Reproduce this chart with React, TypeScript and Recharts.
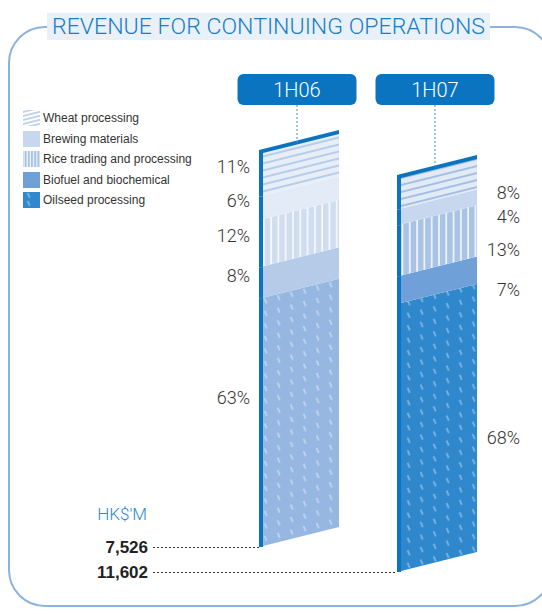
import { BarChart, Bar, XAxis, YAxis, Legend, LabelList } from 'recharts'

const PERIODS = ['1H06', '1H07']
const WHEAT = [11, 8]
const BREWING = [6, 4]
const RICE = [12, 13]
const BIOFUEL = [8, 7]
const OILSEED = [63, 68]
const TOTALS = [7526, 11602]

// bottom of the stack first
const SERIES = [
  { key: 'oilseed', name: 'Oilseed processing' },
  { key: 'biofuel', name: 'Biofuel and biochemical' },
  { key: 'rice', name: 'Rice trading and processing' },
  { key: 'brewing', name: 'Brewing materials' },
  { key: 'wheat', name: 'Wheat processing' },
]

const rows = PERIODS.map((period, i) => ({
  period,
  oilseed: OILSEED[i],
  biofuel: BIOFUEL[i],
  rice: RICE[i],
  brewing: BREWING[i],
  wheat: WHEAT[i],
}))

const EDGE = '#0a74c1'
const SKEW = 20 // left side of each block sits lower than the right
const SHIFT = [0, 25] // second block drops a bit
const PLOT_TOP = 133
const LIGHT = 'Roboto, "Liberation Sans", Arial, sans-serif'
const PLAIN = '"Liberation Sans", Arial, Helvetica, sans-serif'

// [1H06, 1H07, legend]
const BG: Record<string, string[]> = {
  wheat: ['#e7eef8', '#e2eaf6', '#ffffff'],
  brewing: ['#e3ebf6', '#c6d7ee', '#c6d7ee'],
  rice: ['#d0ddf0', '#a9c3e5', '#a9c3e5'],
  biofuel: ['#b5cbe8', '#6fa0d7', '#6fa0d7'],
  oilseed: ['#95b7e1', '#2f87cc', '#2f87cc'],
}
const WHEAT_INK = ['#8cb0df', '#6f9cd6', '#8cb0df']
const OIL_INK = ['#d6e3f4', '#a3cbec', '#a3cbec']

function Patterns() {
  return (
    <svg width={0} height={0} style={{ position: 'absolute' }}>
      <defs>
        {[0, 1, 2].map((v) => (
          <g key={v}>
            <pattern id={`wheat-${v}`} patternUnits="userSpaceOnUse" width={12} height={v === 2 ? 4 : 7} patternTransform="skewY(-14)">
              <rect width={12} height={7} fill={BG.wheat[v]} />
              <line x1={0} x2={12} y1={v === 2 ? 2 : 5} y2={v === 2 ? 2 : 5} stroke={WHEAT_INK[v]} strokeWidth={1.1} />
            </pattern>
            <pattern id={`brewing-${v}`} patternUnits="userSpaceOnUse" width={10} height={10}>
              <rect width={10} height={10} fill={BG.brewing[v]} />
            </pattern>
            <pattern id={`rice-${v}`} patternUnits="userSpaceOnUse" width={v === 2 ? 3.2 : 7.3} height={10}>
              <rect width={8} height={10} fill={BG.rice[v]} />
              <line x1={1} x2={1} y1={0} y2={10} stroke="#ffffff" strokeWidth={v === 2 ? 1 : 1.4} />
            </pattern>
            <pattern id={`biofuel-${v}`} patternUnits="userSpaceOnUse" width={10} height={10}>
              <rect width={10} height={10} fill={BG.biofuel[v]} />
            </pattern>
            <pattern id={`oilseed-${v}`} patternUnits="userSpaceOnUse" width={13} height={v === 2 ? 8 : 12.5} patternTransform="skewY(-14)">
              <rect width={13} height={13} fill={BG.oilseed[v]} />
              <line x1={4.5} y1={2} x2={6.8} y2={7.5} stroke={OIL_INK[v]} strokeWidth={1.1} />
            </pattern>
          </g>
        ))}
      </defs>
    </svg>
  )
}

// eslint-disable-next-line @typescript-eslint/no-explicit-any
const box = (p: any) => ({
  x: p.x ?? p.viewBox?.x,
  y: p.y ?? p.viewBox?.y,
  width: p.width ?? p.viewBox?.width,
  height: p.height ?? p.viewBox?.height,
  index: p.index ?? 0,
})

const makeShape = (key: string, isTop: boolean) =>
  // eslint-disable-next-line @typescript-eslint/no-explicit-any
  (p: any) => {
    const { x, y, width: w, height: h, index } = box(p)
    const y0 = y + SHIFT[index]
    const pts = `${x},${y0 + SKEW} ${x + w},${y0} ${x + w},${y0 + h} ${x},${y0 + h + SKEW}`
    return (
      <g>
        <polygon points={pts} fill={`url(#${key}-${index})`} />
        <rect x={x} y={y0 + SKEW} width={4} height={h} fill={EDGE} />
        {isTop && (
          <polygon
            points={`${x},${y0 + SKEW - 3} ${x + w},${y0 - 3} ${x + w},${y0 + 1} ${x},${y0 + SKEW + 1}`}
            fill={EDGE}
          />
        )}
      </g>
    )
  }

const makePctLabel = (key: string) =>
  // eslint-disable-next-line @typescript-eslint/no-explicit-any
  (p: any) => {
    const { x, y, width, height, index } = box(p)
    const left = index === 0
    const tx = left ? x - 9 : x + width + 43
    let dy = left ? 12 : 19
    if (left && key === 'oilseed') dy = -5
    const ty = y + height / 2 + SHIFT[index] + dy
    return (
      <text x={tx} y={ty} textAnchor="end" dominantBaseline="central" fontSize={18} fontWeight={300} fontFamily={LIGHT} fill="#333">
        {p.value}%
      </text>
    )
  }

// eslint-disable-next-line @typescript-eslint/no-explicit-any
function TotalLabel(p: any) {
  const { x, y, height, index } = box(p)
  const by = y + height + SKEW + SHIFT[index]
  return (
    <g>
      {index === 0 && (
        <text x={147} y={by - 33} textAnchor="end" dominantBaseline="central" fontSize={17} fontWeight={300} fontFamily={LIGHT} fill="#2a8ad0">
          HK$'M
        </text>
      )}
      <text x={148} y={by} textAnchor="end" dominantBaseline="central" fontSize={17} fontWeight="bold" fontFamily={PLAIN} fill="#222">
        {TOTALS[index].toLocaleString('en-US')}
      </text>
      <line x1={153} x2={x} y1={by + 0.5} y2={by + 0.5} stroke="#333" strokeWidth={1} strokeDasharray="2 2" />
    </g>
  )
}

// eslint-disable-next-line @typescript-eslint/no-explicit-any
function PeriodTick(p: any) {
  const { x, y, payload, index } = p
  const cx = x - 2
  return (
    <g>
      <rect x={cx - 59.5} y={y - 59} width={119} height={31} rx={6} fill={EDGE} />
      <text x={cx} y={y - 43} textAnchor="middle" dominantBaseline="central" fontSize={20} fontWeight={300} fontFamily={LIGHT} fill="#fff">
        {payload.value}
      </text>
      <line x1={cx} x2={cx} y1={y - 28} y2={y + 10 + SHIFT[index]} stroke="#3593d6" strokeWidth={1} strokeDasharray="2 2" />
    </g>
  )
}

// eslint-disable-next-line @typescript-eslint/no-explicit-any
function LegendBox({ payload }: any) {
  const byKey = new Map((payload ?? []).map((it: { dataKey: string; value: string }) => [it.dataKey, it.value]))
  const items = [...SERIES].reverse()
  return (
    <div>
      {items.map((s) => (
        <div key={s.key} style={{ display: 'flex', alignItems: 'center', height: 20.5 }}>
          <svg width={17} height={16} style={{ marginRight: 3 }}>
            <rect width={17} height={16} fill={`url(#${s.key}-2)`} />
          </svg>
          <span style={{ fontFamily: PLAIN, fontSize: 12, color: '#333' }}>{(byKey.get(s.key) as string) ?? s.name}</span>
        </div>
      ))}
    </div>
  )
}

export default function App() {
  return (
    <div style={{ position: 'absolute', left: 0, top: 0, width: 542, height: 614, background: '#fff', overflow: 'hidden' }}>
      <Patterns />
      <svg width={542} height={614} style={{ position: 'absolute', left: 0, top: 0 }}>
        <rect x={9} y={27} width={542} height={579} rx={36} fill="none" stroke="#8db2de" strokeWidth={2} />
        <rect x={47} y={13} width={443} height={27} fill="#e8f1fa" />
        <text x={52} y={34} fontSize={22} fontWeight={300} fontFamily={LIGHT} fill="#1a7dc3" textLength={433} lengthAdjust="spacingAndGlyphs">
          REVENUE FOR CONTINUING OPERATIONS
        </text>
      </svg>
      <div style={{ position: 'absolute', left: 0, top: 0 }}>
        <BarChart width={542} height={614} data={rows} margin={{ top: PLOT_TOP - 30, right: 36, left: 230, bottom: 87 }}>
          <XAxis
            dataKey="period"
            orientation="top"
            height={30}
            axisLine={false}
            tickLine={false}
            tickSize={0}
            tickMargin={0}
            tick={PeriodTick}
            interval={0}
          />
          <YAxis hide domain={[0, 100]} />
          <Legend
            layout="vertical"
            align="center"
            verticalAlign="middle"
            content={LegendBox}
            wrapperStyle={{ position: 'absolute', top: 108, left: 23, width: 200, height: 110 }}
          />
          {SERIES.map((s, i) => (
            <Bar
              key={s.key}
              dataKey={s.key}
              name={s.name}
              stackId="a"
              barSize={80}
              fill={BG[s.key][1]}
              shape={makeShape(s.key, i === SERIES.length - 1)}
              isAnimationActive={false}
            >
              <LabelList dataKey={s.key} content={makePctLabel(s.key)} />
              {s.key === 'oilseed' && <LabelList dataKey={s.key} content={TotalLabel} />}
            </Bar>
          ))}
        </BarChart>
      </div>
    </div>
  )
}
